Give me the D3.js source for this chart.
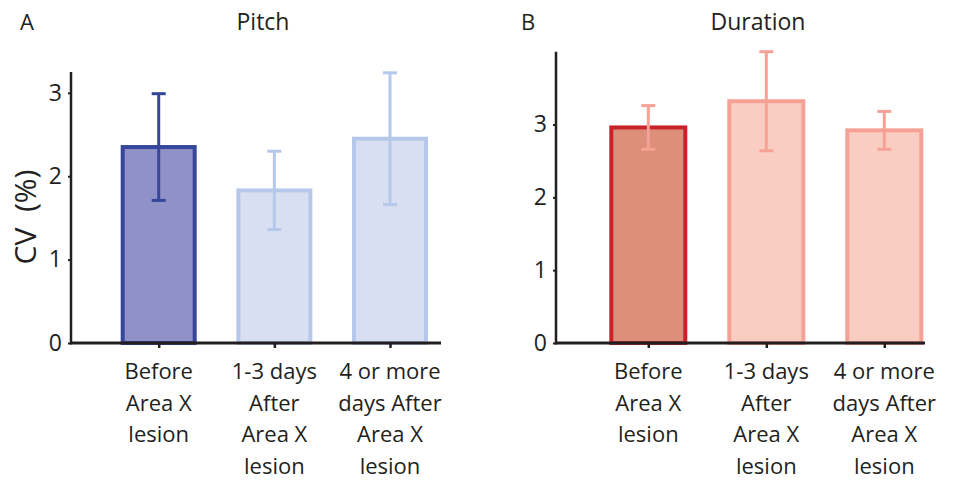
<!DOCTYPE html>
<html>
<head>
<meta charset="utf-8">
<script src="https://cdn.jsdelivr.net/npm/d3@7"></script>
<style>
  body { margin: 0; background: #fff; }
  text { font-family: "Open Sans", sans-serif; fill: #231f20; }
</style>
</head>
<body>
<svg id="chart" width="953" height="481"></svg>
<script>
// data
const categories = ["Before Area X lesion", "1-3 days After Area X lesion", "4 or more days After Area X lesion"];
const catLines = [["Before", "Area X", "lesion"], ["1-3 days", "After", "Area X", "lesion"], ["4 or more", "days After", "Area X", "lesion"]];
const pitchMean = [2.35, 1.83, 2.45];
const pitchErr = [0.64, 0.47, 0.79];
const durationMean = [2.96, 3.32, 2.92];
const durationErr = [0.30, 0.68, 0.26];
const yTicks = [0, 1, 2, 3];

const svg = d3.select("#chart");
const axisColor = "#231f20";

function drawPanel(opts) {
  const g = svg.append("g");
  const x = d3.scalePoint().domain(categories).range(opts.centers);
  const y = d3.scaleLinear().domain([0, opts.yMax]).range([343, opts.yTop]);

  // bars
  g.selectAll("rect.bar")
    .data(opts.mean)
    .enter()
    .append("rect")
    .attr("class", "bar")
    .attr("x", (d, i) => x(categories[i]) - opts.barW / 2)
    .attr("width", opts.barW)
    .attr("y", d => y(d))
    .attr("height", d => y(0) - y(d))
    .attr("fill", (d, i) => opts.fill[i])
    .attr("stroke", (d, i) => opts.stroke[i])
    .attr("stroke-width", 4);

  // error bars
  const eb = g.selectAll("g.err")
    .data(opts.mean)
    .enter()
    .append("g")
    .attr("class", "err")
    .attr("stroke", (d, i) => opts.errColor[i])
    .attr("stroke-width", 3);
  eb.append("line")
    .attr("x1", (d, i) => x(categories[i]))
    .attr("x2", (d, i) => x(categories[i]))
    .attr("y1", (d, i) => y(d + opts.err[i]))
    .attr("y2", (d, i) => y(d - opts.err[i]));
  [1, -1].forEach(s => {
    eb.append("line")
      .attr("x1", (d, i) => x(categories[i]) - 7)
      .attr("x2", (d, i) => x(categories[i]) + 7)
      .attr("y1", (d, i) => y(d + s * opts.err[i]))
      .attr("y2", (d, i) => y(d + s * opts.err[i]));
  });

  // y axis
  const yAxis = g.append("g")
    .attr("transform", "translate(" + opts.axisX + ",0)")
    .call(d3.axisLeft(y).tickValues(yTicks).tickFormat(d3.format("d")).tickSize(3).tickPadding(6));
  yAxis.select(".domain").remove();
  yAxis.selectAll(".tick line").attr("stroke", axisColor).attr("stroke-width", 2);
  yAxis.selectAll(".tick text").style("font-size", "23px").attr("fill", axisColor);
  g.append("line")
    .attr("x1", opts.axisX).attr("x2", opts.axisX)
    .attr("y1", y(opts.yMax)).attr("y2", y(0) + 1.5)
    .attr("stroke", axisColor).attr("stroke-width", 2.5);

  // x axis
  const xAxis = g.append("g")
    .attr("transform", "translate(0," + y(0) + ")")
    .call(d3.axisBottom(x).tickSize(5).tickFormat(""));
  xAxis.select(".domain").remove();
  xAxis.selectAll(".tick line").attr("stroke", axisColor).attr("stroke-width", 2.5);
  g.append("line")
    .attr("x1", opts.axisX).attr("x2", opts.axisEnd)
    .attr("y1", y(0)).attr("y2", y(0))
    .attr("stroke", axisColor).attr("stroke-width", 3);

  // category labels
  g.selectAll("text.cat")
    .data(catLines)
    .enter()
    .append("text")
    .attr("class", "cat")
    .attr("text-anchor", "middle")
    .style("font-size", "22px")
    .selectAll("tspan")
    .data((d, i) => d.map(t => ({ t: t, cx: x(categories[i]) })))
    .enter()
    .append("tspan")
    .attr("x", d => d.cx)
    .attr("y", (d, j) => 379 + j * 31.7)
    .text(d => d.t);

  // titles
  g.append("text")
    .attr("x", opts.titleX).attr("y", 30)
    .attr("text-anchor", "middle")
    .style("font-size", "23px")
    .text(opts.title);
  g.append("text")
    .attr("x", opts.letterX).attr("y", 30)
    .style("font-size", "22px")
    .text(opts.letter);
}

drawPanel({
  title: "Pitch", letter: "A", titleX: 263, letterX: 20,
  centers: [158.7, 390], axisX: 71, axisEnd: 441,
  yMax: 3.25, yTop: 72, barW: 72,
  mean: pitchMean, err: pitchErr,
  fill: ["#9091c7", "#d9dff2", "#d9dff2"],
  stroke: ["#35469b", "#b6c8e9", "#b6c8e9"],
  errColor: ["#35469b", "#b6c8e9", "#b6c8e9"]
});

drawPanel({
  title: "Duration", letter: "B", titleX: 758, letterX: 521,
  centers: [648.3, 884.3], axisX: 556, axisEnd: 925,
  yMax: 4.0, yTop: 51.7, barW: 74,
  mean: durationMean, err: durationErr,
  fill: ["#de8f79", "#facdc3", "#facdc3"],
  stroke: ["#c9222b", "#f6a196", "#f6a196"],
  errColor: ["#f6a196", "#f6a196", "#f6a196"]
});

// shared y label
svg.append("text")
  .attr("transform", "translate(36,217) rotate(-90)")
  .attr("text-anchor", "middle")
  .style("font-size", "30px")
  .attr("xml:space", "preserve")
  .text("CV  (%)");
</script>
</body>
</html>
